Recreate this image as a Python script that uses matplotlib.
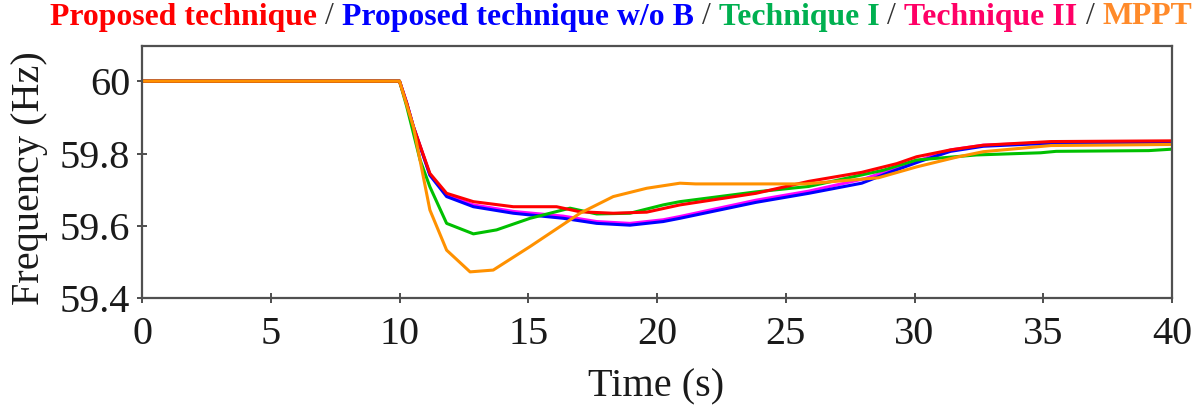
import matplotlib
matplotlib.use("Agg")
import matplotlib.pyplot as plt

# Данные (время, с / частота, Гц)
t_red = [0, 10, 10.28, 10.54, 11.18, 11.83, 12.87, 14.42, 16.1, 17.01, 18.3, 19.6, 20.89,
         23.84, 25.89, 27.95, 29.31, 30.08, 31.4, 32.67, 35.3, 40]
f_red = [60.0, 60.0, 59.939, 59.874, 59.745, 59.69, 59.667, 59.653, 59.653, 59.639, 59.635, 59.638, 59.658,
         59.69, 59.723, 59.748, 59.772, 59.791, 59.81, 59.823, 59.833, 59.835]

t_blue = [0, 10, 10.28, 10.54, 11.18, 11.83, 12.87, 14.42, 16.36, 17.66, 18.95, 20.24, 20.89,
          23.84, 25.89, 27.95, 29.04, 30.2, 31.4, 32.67, 34.5, 40]
f_blue = [60.0, 60.0, 59.939, 59.874, 59.74, 59.681, 59.653, 59.635, 59.621, 59.607, 59.602, 59.612, 59.621,
          59.665, 59.69, 59.718, 59.748, 59.778, 59.806, 59.82, 59.826, 59.828]

t_pink = [0, 10, 10.28, 10.54, 11.18, 11.83, 12.87, 14.42, 16.36, 17.66, 18.95, 20.24, 20.89,
          23.84, 25.89, 28.1, 29.5, 31.4, 32.67, 34.5, 40]
f_pink = [60.0, 60.0, 59.939, 59.874, 59.742, 59.686, 59.658, 59.64, 59.627, 59.612, 59.607, 59.617, 59.626,
          59.671, 59.696, 59.731, 59.765, 59.81, 59.823, 59.828, 59.83]

t_green = [0, 10, 10.28, 10.8, 11.18, 11.83, 12.87, 13.77, 15.07, 16.62, 17.66, 18.95, 20.24, 20.89,
           23.84, 25.89, 28.8, 30.08, 32.4, 34.9, 35.5, 39.1, 40]
f_green = [60.0, 60.0, 59.93, 59.782, 59.708, 59.607, 59.578, 59.589, 59.621, 59.649, 59.633, 59.635, 59.658, 59.667,
           59.694, 59.709, 59.754, 59.782, 59.796, 59.802, 59.806, 59.808, 59.812]

t_orange = [0, 10, 10.54, 11.18, 11.83, 12.74, 13.64, 15.07, 17.01, 18.3, 19.6, 20.89,
            21.5, 25.75, 28.6, 30.08, 31.64, 32.67, 35.3, 40]
f_orange = [60.0, 60.0, 59.874, 59.644, 59.533, 59.473, 59.478, 59.543, 59.635, 59.681, 59.704, 59.718,
            59.716, 59.716, 59.733, 59.763, 59.79, 59.805, 59.822, 59.825]

x_ticks = [0, 5, 10, 15, 20, 25, 30, 35, 40]
y_ticks = [59.4, 59.6, 59.8, 60.0]
y_tick_labels = ["59.4", "59.6", "59.8", "60"]

# Заголовок-легенда: (текст, цвет, жирный)
title_parts = [
    ("Proposed technique", "#FF0000", True),
    (" / ", "#333333", False),
    ("Proposed technique w/o B", "#0000FF", True),
    (" / ", "#333333", False),
    ("Technique I", "#00B050", True),
    (" / ", "#333333", False),
    ("Technique II", "#FF0066", True),
    (" / ", "#333333", False),
    ("MPPT", "#FF8A2A", True),
]

serif = ["Liberation Serif", "DejaVu Serif"]
plt.rcParams["font.family"] = serif

W, H = 1202, 412
fig = plt.figure(figsize=(W / 100, H / 100), dpi=100)
ax = fig.add_axes([142 / W, 1 - 298.3 / H, 1030 / W, (298.3 - 46) / H])

ax.plot(t_pink, f_pink, color="#FF00FF", lw=2.2)
ax.plot(t_blue, f_blue, color="#0000FF", lw=2.2)
ax.plot(t_green, f_green, color="#00C000", lw=2.2)
ax.plot(t_red, f_red, color="#FF0000", lw=2.2)
ax.plot(t_orange, f_orange, color="#FF9100", lw=2.2)

ax.set_xlim(0, 40)
ax.set_ylim(59.4, 60.097)
ax.set_xticks(x_ticks)
ax.set_yticks(y_ticks)
ax.set_yticklabels(y_tick_labels)
ax.tick_params(direction="inout", length=7, width=1.3, labelsize=29, colors="#404040",
               labelcolor="#1a1a1a")
ax.tick_params(axis="y", pad=5)
ax.tick_params(axis="x", pad=9)
for s in ax.spines.values():
    s.set_color("#505050")
    s.set_linewidth(1.6)

fig.text(656 / W, 1 - 387 / H, "Time (s)", fontsize=29, color="#1a1a1a", ha="center", va="center")
fig.text(30 / W, 1 - 178 / H, "Frequency (Hz)", fontsize=29, color="#1a1a1a",
         ha="center", va="center", rotation=90)

# Составной цветной заголовок
renderer = fig.canvas.get_renderer()
fs = 22.9
x_px = 50
for text, color, bold in title_parts:
    txt = fig.text(x_px / W, 1 - 17 / H, text, color=color, fontsize=fs,
                   fontweight="bold" if bold else "normal", va="center", ha="left")
    bb = txt.get_window_extent(renderer=renderer)
    x_px += bb.width

fig.savefig("out.png", dpi=100)
